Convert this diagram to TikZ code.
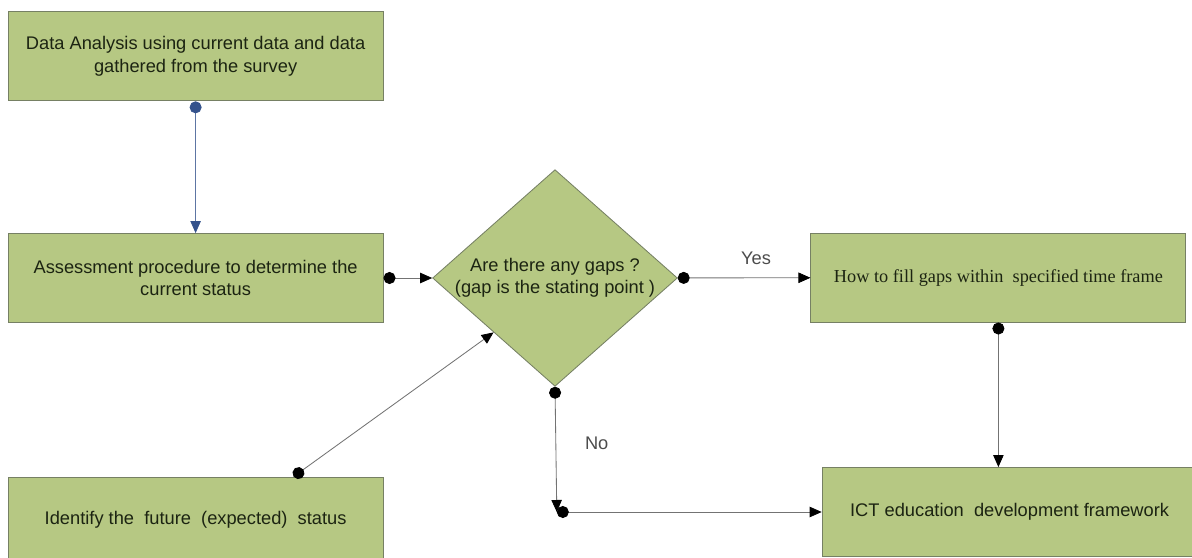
\documentclass[tikz,border=0pt]{standalone}
\usepackage{fontspec}
\setmainfont{Liberation Sans}
\newfontfamily\timesfont{Liberation Serif}
\usepackage{xcolor}
\usepackage{tikz}
\usetikzlibrary{arrows.meta,shapes.geometric}

\definecolor{boxgreen}{RGB}{182,200,131}
\definecolor{boxedge}{RGB}{118,128,100}
\definecolor{boxtext}{RGB}{28,36,18}
\definecolor{lineblue}{RGB}{52,82,140}

\begin{document}
\begin{tikzpicture}[
        font=\fontsize{13}{16}\selectfont,
        block/.style={rectangle, draw=boxedge, fill=boxgreen, line width=0.6pt, text=boxtext, minimum width=9.375cm, minimum height=2.225cm, align=center},
        decision/.style={diamond, draw=boxedge, fill=boxgreen, line width=0.6pt, text=boxtext, inner sep=0pt, aspect=1.13, minimum width=6.05cm, minimum height=5.35cm, align=center},
        arrow/.style={{Circle[length=0.3cm, color=black]}-{Triangle[length=0.3cm, width=0.26cm, color=black]}, draw=black!55, line width=0.6pt},
        bluearrow/.style={{Circle[length=0.3cm, color=lineblue]}-{Triangle[length=0.3cm, width=0.26cm, color=lineblue]}, draw=lineblue!80, line width=0.6pt},
        tag/.style={text=black!70}
    ]
        \useasboundingbox (0,0) rectangle (29.8,-13.95);

        % Blocks
        \node[block] (analysis) at (4.89,-1.41) {Data Analysis using current data and data\\gathered from the survey};
        \node[block] (assess) at (4.89,-6.95) {Assessment procedure to determine the\\current status};
        \node[block, minimum height=2.15cm] (future) at (4.89,-13.0) {Identify the~ future~ (expected)~ status};
        \node[decision] (gaps) at (13.875,-6.95) {Are there any gaps ?\\(gap is the stating point )};
        \node[block] (fill) at (24.96,-6.94) {\timesfont How to fill gaps within~ specified time frame};
        \node[block] (ict) at (25.24,-12.8) {ICT education~ development framework};
        \coordinate (turn) at (13.92,-12.8);

        % Arrows
        \draw[bluearrow] (analysis) -- (assess);
        \draw[arrow] (assess) -- (gaps);
        \draw[arrow] ([xshift=2.45cm]future.north) -- (gaps.south west);
        \draw[arrow] (gaps) -- node[tag, above=6pt, xshift=0.3cm] {Yes} (fill);
        \draw[arrow] (fill.south) -- (fill.south |- ict.north);
        \draw[arrow] (gaps.south) -- node[tag, right=0.6cm, yshift=0.15cm] {No} (turn);
        \draw[arrow] (turn) -- (ict);

    \end{tikzpicture}
\end{document}
